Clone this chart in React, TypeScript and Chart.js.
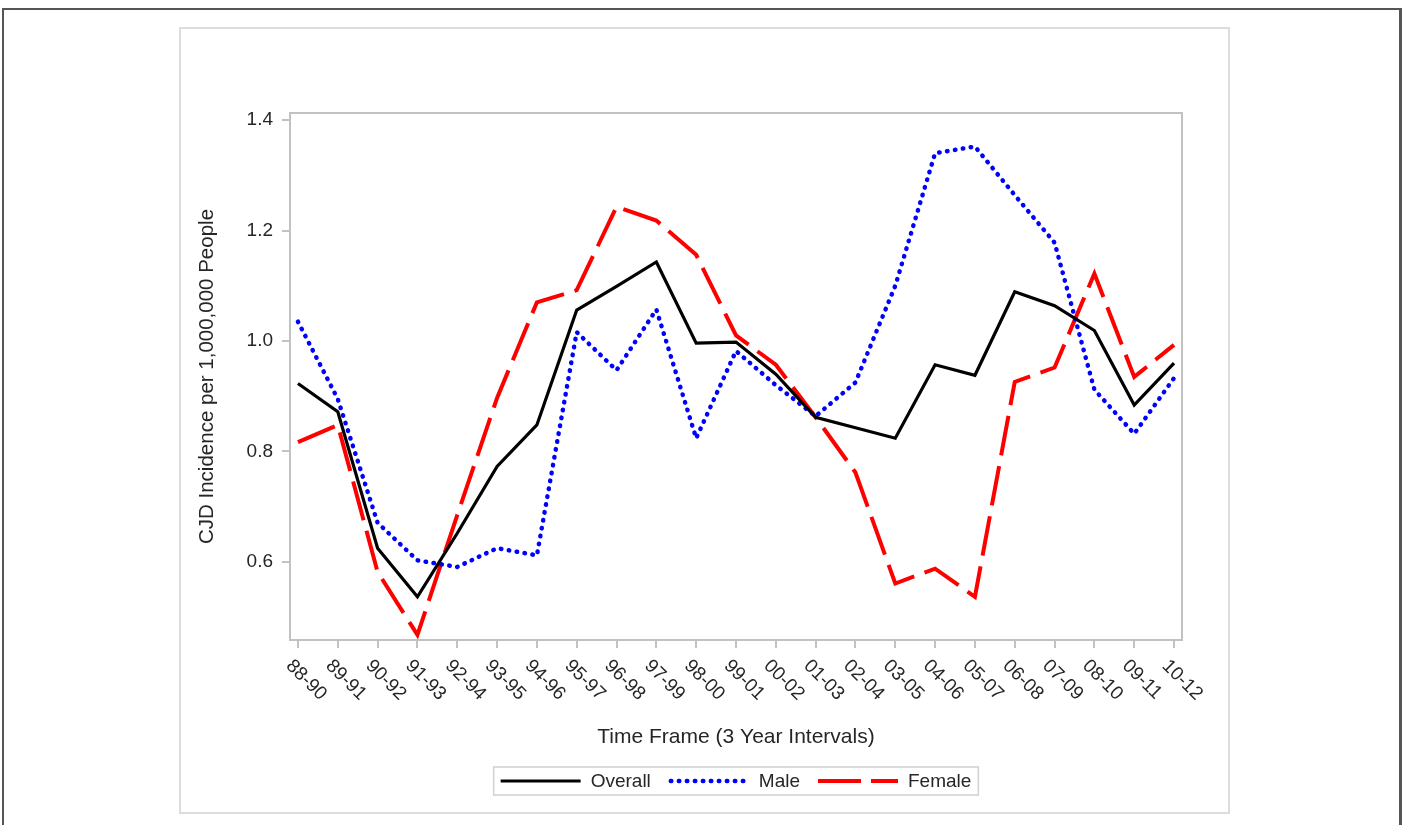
import React, { useEffect, useRef } from "react";
import { Chart, registerables } from "chart.js";

Chart.register(...registerables);

const categories = [
  "88-90", "89-91", "90-92", "91-93", "92-94", "93-95", "94-96", "95-97",
  "96-98", "97-99", "98-00", "99-01", "00-02", "01-03", "02-04", "03-05",
  "04-06", "05-07", "06-08", "07-09", "08-10", "09-11", "10-12",
];
const overall = [
  0.923, 0.872, 0.625, 0.537, 0.652, 0.773, 0.848, 1.056, 1.099, 1.143, 0.996, 0.998,
  0.94, 0.862, 0.843, 0.824, 0.957, 0.938, 1.089, 1.064, 1.019, 0.884, 0.96,
];
const male = [
  1.035, 0.895, 0.671, 0.603, 0.591, 0.625, 0.612, 1.016, 0.947, 1.057, 0.824, 0.982,
  0.92, 0.864, 0.925, 1.1, 1.34, 1.352, 1.264, 1.178, 0.912, 0.832, 0.933,
];
const female = [
  0.817, 0.848, 0.582, 0.468, 0.685, 0.897, 1.07, 1.092, 1.243, 1.218, 1.156, 1.01,
  0.957, 0.862, 0.762, 0.561, 0.588, 0.537, 0.926, 0.952, 1.122, 0.935, 0.993,
];
const yTicks = [0.6, 0.8, 1.0, 1.2, 1.4];
const seriesNames = ["Overall", "Male", "Female"];
const yTitle = "CJD Incidence per 1,000,000 People";
const xTitle = "Time Frame (3 Year Intervals)";

const FONT = "'Liberation Sans', Arial, Helvetica, sans-serif";
const TEXT = "#262626";
const FRAME = "#c2c2c2";

const styles = [
  { color: "#000000", width: 3.2, dash: [] as number[], cap: "butt" as CanvasLineCap },
  { color: "#0000ff", width: 4.5, dash: [0.5, 7.5], cap: "round" as CanvasLineCap },
  { color: "#ff0000", width: 4, dash: [40, 11], cap: "butt" as CanvasLineCap },
];

const framePlugin = {
  id: "frame",
  beforeDatasetsDraw(chart: any) {
    const { ctx, chartArea: a } = chart;
    ctx.save();
    ctx.strokeStyle = FRAME;
    ctx.lineWidth = 2;
    ctx.strokeRect(a.left, a.top, a.right - a.left, a.bottom - a.top);
    ctx.restore();
  },
};

const xLabelPlugin = {
  id: "xlabels",
  afterDraw(chart: any) {
    const { ctx, chartArea: a } = chart;
    const xs = chart.scales.x;
    ctx.save();
    ctx.fillStyle = TEXT;
    ctx.font = `19px ${FONT}`;
    ctx.textAlign = "left";
    ctx.textBaseline = "middle";
    categories.forEach((lab, i) => {
      const px = xs.getPixelForValue(i);
      ctx.save();
      ctx.translate(px - 9, a.bottom + 23);
      ctx.rotate(Math.PI / 4);
      ctx.fillText(lab, 0, 0);
      ctx.restore();
    });
    ctx.restore();
  },
};

const legendPlugin = {
  id: "customLegend",
  afterDraw(chart: any) {
    const { ctx, chartArea: a } = chart;
    ctx.save();
    ctx.font = `19px ${FONT}`;
    const pad = 7;
    const lineLen = 80;
    const gap = 10;
    const itemGap = 18;
    const widths = seriesNames.map((n) => ctx.measureText(n).width);
    let total = pad * 2;
    widths.forEach((w, i) => {
      total += lineLen + gap + w + (i < widths.length - 1 ? itemGap : 0);
    });
    const cx = (a.left + a.right) / 2;
    const cy = 781;
    const left = cx - total / 2;
    const h = 28;
    ctx.strokeStyle = "#d0d0d0";
    ctx.lineWidth = 1.5;
    ctx.strokeRect(left, cy - h / 2, total, h);
    let x = left + pad;
    seriesNames.forEach((n, i) => {
      const s = styles[i];
      ctx.save();
      ctx.strokeStyle = s.color;
      ctx.lineWidth = s.width;
      ctx.lineCap = s.cap;
      ctx.setLineDash(s.dash.length ? (i === 2 ? [43, 10] : s.dash) : []);
      ctx.beginPath();
      ctx.moveTo(x + (s.cap === "round" ? 2 : 0), cy);
      ctx.lineTo(x + lineLen, cy);
      ctx.stroke();
      ctx.restore();
      x += lineLen + gap;
      ctx.fillStyle = TEXT;
      ctx.textAlign = "left";
      ctx.textBaseline = "middle";
      ctx.fillText(n, x, cy + 1);
      x += widths[i] + itemGap;
    });
    ctx.restore();
  },
};

export default function App() {
  const ref = useRef<HTMLCanvasElement>(null);
  useEffect(() => {
    if (!ref.current) return;
    const series = [overall, male, female];
    const chart = new Chart(ref.current, {
      type: "line",
      data: {
        datasets: series.map((vals, i) => ({
          label: seriesNames[i],
          data: vals.map((v, j) => ({ x: j, y: v })),
          borderColor: styles[i].color,
          borderWidth: styles[i].width,
          borderDash: styles[i].dash,
          borderCapStyle: styles[i].cap,
          borderJoinStyle: "miter",
          pointRadius: 0,
          tension: 0,
          fill: false,
        })),
      },
      options: {
        responsive: false,
        animation: false,
        layout: { padding: { left: 180, top: 113, right: 223, bottom: 0 } },
        plugins: { legend: { display: false }, tooltip: { enabled: false } },
        scales: {
          x: {
            type: "linear",
            min: -0.2,
            max: 22.2,
            afterBuildTicks: (s: any) => {
              s.ticks = categories.map((_, i) => ({ value: i }));
            },
            afterFit: (s: any) => {
              s.height = 185;
            },
            ticks: { display: false },
            grid: {
              drawOnChartArea: false,
              drawTicks: true,
              tickLength: 8,
              color: FRAME,
              lineWidth: 2,
            },
            border: { display: false },
            title: {
              display: true,
              text: xTitle,
              color: TEXT,
              font: { family: FONT, size: 21 },
              padding: { top: 0, bottom: 75 },
            },
          },
          y: {
            type: "linear",
            min: 0.4588,
            max: 1.4127,
            afterBuildTicks: (s: any) => {
              s.ticks = yTicks.map((v) => ({ value: v }));
            },
            afterFit: (s: any) => {
              s.width = 110;
            },
            ticks: {
              color: TEXT,
              font: { family: FONT, size: 19 },
              padding: 9,
              callback: (v: any) => Number(v).toFixed(1),
            },
            grid: {
              drawOnChartArea: false,
              drawTicks: true,
              tickLength: 8,
              color: FRAME,
              lineWidth: 2,
            },
            border: { display: false },
            title: {
              display: true,
              text: yTitle,
              color: TEXT,
              font: { family: FONT, size: 20.5 },
              padding: { top: 15, bottom: 0 },
            },
          },
        },
      },
      plugins: [framePlugin, xLabelPlugin, legendPlugin],
    } as any);
    return () => chart.destroy();
  }, []);

  return (
    <div style={{ position: "fixed", left: 0, top: 0, width: 1405, height: 825, background: "#ffffff", overflow: "hidden" }}>
      <div
        style={{
          position: "absolute",
          left: 2,
          top: 8,
          width: 1400,
          height: 840,
          borderTop: "2px solid #555555",
          borderLeft: "2px solid #555555",
          borderRight: "3px solid #555555",
          boxSizing: "border-box",
        }}
      />
      <div
        style={{
          position: "absolute",
          left: 179,
          top: 27,
          width: 1051,
          height: 787,
          border: "2px solid #dddddd",
          boxSizing: "border-box",
        }}
      />
      <canvas ref={ref} width={1405} height={825} style={{ position: "absolute", left: 0, top: 0 }} />
    </div>
  );
}
